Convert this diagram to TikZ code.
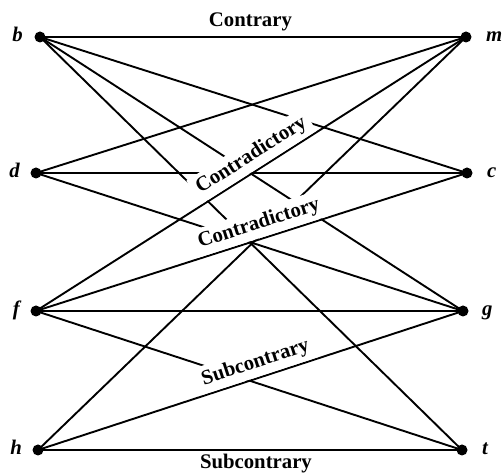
\documentclass[tikz,border=0pt]{standalone}
\usepackage{fontspec}
\setmainfont{Liberation Serif}
\begin{document}
\begin{tikzpicture}[x=1pt,y=1pt,
  vtx/.style={circle, fill=black, inner sep=0pt, minimum size=11pt},
  edge/.style={line width=1.9pt},
  vlab/.style={font=\fontsize{20.75}{24}\selectfont\bfseries\itshape, inner sep=0pt},
  rel/.style={font=\fontsize{20.75}{24}\selectfont\bfseries, fill=white, inner xsep=5pt, inner ysep=4.5pt, sloped},
]
\useasboundingbox (0,0) rectangle (504,473);
% vertices
\node[vtx] (b) at (40,436) {};
\node[vtx] (m) at (466,436) {};
\node[vtx] (d) at (36,300) {};
\node[vtx] (c) at (467,300) {};
\node[vtx] (f) at (36,162) {};
\node[vtx] (g) at (463,162) {};
\node[vtx] (h) at (38,23) {};
\node[vtx] (t) at (462,23) {};
% vertex letters
\node[vlab, anchor=base east] (lb) at ([xshift=-17pt, yshift=-5pt]b.center) {b};
\node[vlab, anchor=base east] (ld) at ([xshift=-16pt, yshift=-5pt]d.center) {d};
\node[vlab, anchor=base east] (lf) at ([xshift=-16pt, yshift=-5pt]f.center) {f};
\node[vlab, anchor=base east] (lh) at ([xshift=-16pt, yshift=-5pt]h.center) {h};
\node[vlab, anchor=base west] (lm) at ([xshift=20pt, yshift=-5pt]m.center) {m};
\node[vlab, anchor=base west] (lc) at ([xshift=20pt, yshift=-5pt]c.center) {c};
\node[vlab, anchor=base west] (lg) at ([xshift=19pt, yshift=-5pt]g.center) {g};
\node[vlab, anchor=base west] (lt) at ([xshift=20pt, yshift=-5pt]t.center) {t};
% connectors
\foreach \u/\v in {b/m, b/c, b/g, b/t, m/d, m/f, m/h, d/c, d/g, c/f, f/g, f/t, h/g, h/t}
  \draw[edge] (\u.center) -- (\v.center);
% relation labels
\path (b.center) -- (m.center) node[rel, pos=0.494, above=1pt] (lcontrary) {Contrary};
\path (f.center) -- (m.center) node[rel, pos=0.52, above=1pt] (lcd1) {Contradictory};
\path (f.center) -- (c.center) node[rel, pos=0.528, above=1pt] (lcd2) {Contradictory};
\path (h.center) -- (g.center) node[rel, pos=0.523, above=1pt] (lsc1) {Subcontrary};
\path (h.center) -- (t.center) node[rel, fill=none, inner ysep=0.3pt, pos=0.514, below=3.5pt] (lsc2) {Subcontrary};
\end{tikzpicture}
\end{document}
